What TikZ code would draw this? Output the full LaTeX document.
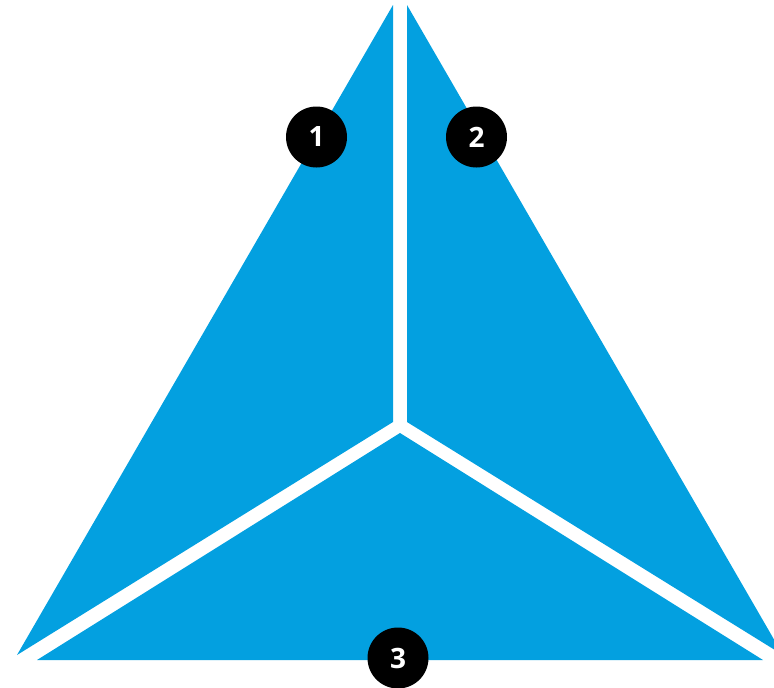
\documentclass[tikz,border=0pt]{standalone}
\usepackage{fontspec}
\setmainfont{Open Sans}
\definecolor{triblue}{RGB}{3,160,224}
\begin{document}
\begin{tikzpicture}[x=1pt,y=-1pt,
  piece/.style={fill=triblue,draw=none},
  badge/.style={circle,fill=black,minimum size=61pt,inner sep=0pt,text=white,font=\fontsize{28}{28}\selectfont\bfseries}]
\useasboundingbox (0,0) rectangle (774,688);
\clip (0,0) rectangle (774,688);
\fill[piece] (393,5) -- (393,422) -- (17,655) -- cycle;
\fill[piece] (407,5) -- (407,422) -- (783,655) -- cycle;
\fill[piece] (400,433) -- (37,660) -- (763,660) -- cycle;
\node[badge] (n1) at (316.5,137) {1};
\node[badge] (n2) at (476.5,137) {2};
\node[badge] (n3) at (398,658) {3};
\end{tikzpicture}
\end{document}
